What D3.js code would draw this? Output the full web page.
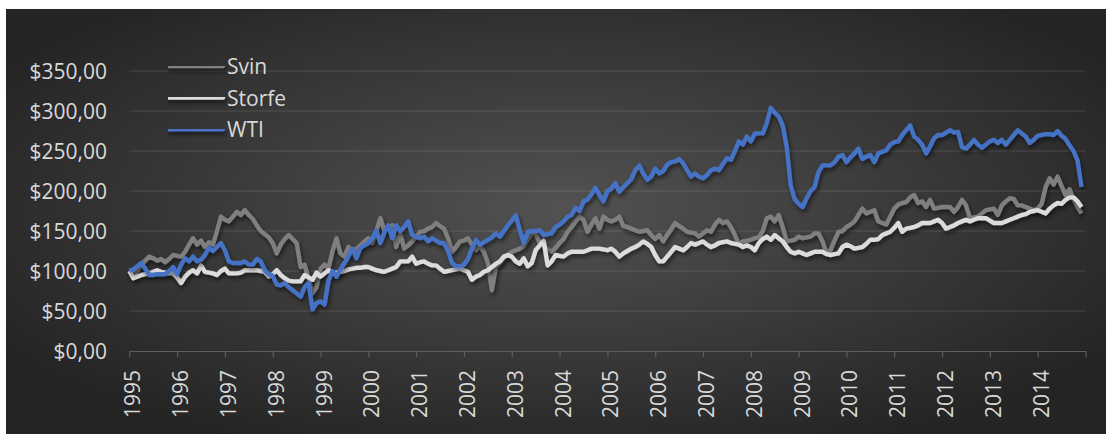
<!DOCTYPE html>
<html>
<head>
<meta charset="utf-8">
<script src="https://cdn.jsdelivr.net/npm/d3@7/dist/d3.min.js"></script>
<style>
  body { margin: 0; background: #fff; }
  svg { display: block; }
  text { font-family: "Open Sans", sans-serif; fill: #d9d9d9; }
</style>
</head>
<body>
<svg id="chart" width="1106" height="434"></svg>
<script>
//DATA//////////////////////////////////
var years = ["1995", "1996", "1997", "1998", "1999", "2000", "2001", "2002", "2003", "2004",
  "2005", "2006", "2007", "2008", "2009", "2010", "2011", "2012", "2013", "2014"];
var yTicks = [0, 50, 100, 150, 200, 250, 300, 350];
var yTickLabels = ["$0,00", "$50,00", "$100,00", "$150,00", "$200,00", "$250,00", "$300,00", "$350,00"];
var seriesNames = ["Svin", "Storfe", "WTI"];

// monthly index values, Jan 1995 - Dec 2014
var svin = [
  100, 95, 100, 108, 113, 118, 116, 113, 115, 111, 115, 120,
  119, 118, 124, 133, 141, 133, 138, 130, 136, 133, 150, 168,
  164, 162, 168, 174, 170, 176, 170, 165, 157, 150, 146, 142,
  135, 122, 133, 140, 145, 140, 135, 105, 108, 90, 72, 80,
  103, 108, 103, 125, 141, 122, 118, 130, 124, 128, 132, 137,
  141, 135, 150, 166, 151, 155, 157, 130, 147, 128, 132, 137,
  143, 149, 150, 153, 155, 160, 156, 153, 141, 124, 130, 137,
  138, 141, 133, 126, 131, 124, 110, 76, 105, 110, 116, 120,
  124, 126, 128, 131, 140, 147, 147, 135, 131, 128, 124, 129,
  135, 140, 149, 155, 162, 168, 164, 149, 158, 166, 153, 168,
  164, 162, 164, 168, 156, 155, 153, 151, 149, 150, 151, 145,
  140, 145, 137, 145, 152, 160, 156, 153, 149, 148, 147, 143,
  147, 151, 149, 158, 164, 160, 162, 155, 145, 133, 137, 138,
  139, 141, 142, 150, 166, 168, 162, 170, 155, 137, 138, 139,
  143, 141, 142, 143, 147, 147, 137, 122, 126, 138, 149, 150,
  155, 158, 162, 170, 178, 172, 174, 176, 162, 160, 158, 168,
  178, 183, 185, 186, 192, 195, 185, 187, 180, 189, 178, 179,
  180, 180, 180, 174, 180, 189, 182, 166, 167, 168, 172, 176,
  177, 178, 170, 182, 187, 191, 190, 182, 182, 180, 178, 176,
  178, 184, 205, 216, 208, 218, 206, 195, 202, 189, 180, 172
];
var storfe = [
  100, 91, 93, 95, 96, 97, 99, 101, 99, 98, 97, 97,
  92, 85, 93, 98, 101, 97, 107, 99, 98, 97, 95, 100,
  103, 97, 97, 97, 98, 101, 101, 101, 101, 100, 99, 93,
  96, 101, 95, 91, 88, 87, 87, 87, 95, 92, 89, 98,
  93, 97, 101, 97, 98, 99, 100, 102, 103, 104, 104, 105,
  105, 103, 101, 100, 99, 101, 103, 105, 112, 112, 112, 118,
  109, 111, 112, 109, 107, 107, 103, 99, 100, 101, 102, 103,
  101, 99, 89, 93, 95, 99, 101, 105, 109, 112, 118, 120,
  118, 112, 109, 116, 106, 110, 126, 132, 138, 107, 112, 120,
  119, 118, 122, 124, 124, 124, 124, 126, 128, 128, 128, 127,
  126, 128, 124, 118, 122, 125, 128, 130, 133, 137, 134, 130,
  120, 112, 112, 118, 124, 130, 128, 126, 130, 135, 133, 135,
  137, 133, 130, 132, 135, 136, 137, 135, 134, 133, 130, 132,
  130, 126, 135, 140, 143, 139, 145, 141, 137, 130, 124, 122,
  124, 122, 120, 122, 124, 124, 124, 121, 120, 121, 122, 130,
  133, 131, 128, 129, 130, 134, 139, 139, 140, 145, 147, 149,
  154, 160, 149, 153, 154, 155, 157, 160, 160, 160, 162, 164,
  160, 153, 155, 157, 160, 162, 164, 162, 164, 166, 166, 166,
  163, 160, 160, 160, 162, 164, 166, 168, 170, 171, 174, 175,
  176, 174, 172, 178, 182, 185, 184, 189, 192, 192, 187, 180
];
var wti = [
  100, 102, 106, 110, 103, 95, 95, 96, 96, 96, 100, 105,
  96, 108, 116, 112, 118, 112, 114, 120, 129, 125, 130, 135,
  126, 112, 110, 110, 110, 112, 108, 108, 115, 112, 101, 96,
  94, 83, 82, 85, 80, 76, 72, 68, 80, 85, 52, 60,
  62, 58, 88, 100, 93, 102, 110, 118, 128, 116, 129, 132,
  135, 141, 151, 135, 148, 157, 141, 157, 150, 155, 162, 145,
  143, 141, 143, 137, 141, 138, 135, 135, 125, 110, 106, 106,
  108, 115, 128, 139, 133, 136, 139, 142, 147, 143, 150, 157,
  163, 170, 151, 135, 149, 150, 150, 151, 145, 146, 147, 155,
  158, 162, 168, 170, 179, 175, 187, 189, 196, 204, 195, 187,
  200, 203, 210, 199, 205, 210, 215, 226, 232, 222, 214, 218,
  228, 222, 225, 233, 236, 237, 240, 235, 226, 218, 222, 218,
  216, 220, 226, 228, 226, 234, 241, 239, 250, 262, 258, 268,
  262, 272, 272, 272, 285, 304, 298, 293, 282, 255, 207, 190,
  184, 180, 191, 200, 205, 224, 232, 232, 232, 236, 243, 245,
  236, 242, 247, 253, 240, 243, 245, 236, 247, 249, 251, 258,
  261, 262, 270, 276, 282, 268, 264, 258, 247, 256, 266, 270,
  270, 273, 276, 273, 274, 255, 253, 258, 264, 258, 254, 258,
  262, 264, 260, 264, 258, 264, 270, 276, 272, 268, 260, 264,
  269, 270, 271, 271, 270, 275, 269, 265, 257, 250, 238, 205
];
var seriesValues = [svin, storfe, wti];
var seriesColors = ["#7f7f7f", "#dcdcdc", "#4472c4"];

//SETUP/////////////////////////////////
var svg = d3.select("#chart");
var plotLeft = 129.3, plotRight = 1085.5;

var x = d3.scaleLinear().domain([0, years.length * 12]).range([plotLeft, plotRight]);
var y = d3.scaleLinear().domain([0, 350]).range([351, 71]);

var defs = svg.append("defs");
var grad = defs.append("radialGradient")
  .attr("id", "bg")
  .attr("cx", "0.5").attr("cy", "0.45").attr("r", "0.6");
grad.append("stop").attr("offset", "0%").attr("stop-color", "#525252");
grad.append("stop").attr("offset", "100%").attr("stop-color", "#242424");

// user space region so flat legend lines keep their shadow
var shadow = defs.append("filter").attr("id", "shadow")
  .attr("filterUnits", "userSpaceOnUse")
  .attr("x", 0).attr("y", 0).attr("width", 1106).attr("height", 434);
shadow.append("feDropShadow")
  .attr("dx", 1.5).attr("dy", 3).attr("stdDeviation", 2)
  .attr("flood-color", "#000").attr("flood-opacity", 0.55);

svg.append("rect")
  .attr("x", 6).attr("y", 9)
  .attr("width", 1106).attr("height", 440)
  .attr("fill", "url(#bg)");

//GRID + Y LABELS///////////////////////
svg.append("g")
  .selectAll("line")
  .data(yTicks.slice(1))
  .join("line")
  .attr("x1", plotLeft).attr("x2", plotRight)
  .attr("y1", d => y(d)).attr("y2", d => y(d))
  .attr("stroke", "rgba(255,255,255,0.13)")
  .attr("stroke-width", 1.2);

svg.append("g")
  .selectAll("text")
  .data(yTicks)
  .join("text")
  .attr("x", 107)
  .attr("y", d => y(d))
  .attr("text-anchor", "end")
  .attr("dominant-baseline", "central")
  .style("font-size", "21px")
  .text((d, i) => yTickLabels[i]);

//X AXIS////////////////////////////////
var xAxis = svg.append("g")
  .attr("transform", "translate(0," + y(0) + ")")
  .call(d3.axisBottom(x)
    .tickValues(d3.range(0, years.length * 12 + 1, 12))
    .tickSize(6)
    .tickSizeOuter(0)
    .tickFormat(d => (d / 12 < years.length ? years[d / 12] : "")));
xAxis.select(".domain").attr("stroke", "#5e5e5e").attr("stroke-width", 1.2);
xAxis.selectAll(".tick line").attr("stroke", "#5e5e5e").attr("stroke-width", 1.2);
xAxis.selectAll(".tick text")
  .attr("fill", "#d9d9d9")
  .style("font-size", "21px")
  .style("font-family", "'Open Sans', sans-serif")
  .attr("text-anchor", "end")
  .attr("dominant-baseline", "central")
  .attr("dy", null)
  .attr("y", 0)
  .attr("x", 0)
  .attr("transform", "translate(2.5,19) rotate(-90)");

//LINES/////////////////////////////////
var line = d3.line()
  .x((d, i) => x(i))
  .y(d => y(d));

svg.append("g")
  .selectAll("path")
  .data(seriesValues)
  .join("path")
  .attr("d", line)
  .attr("fill", "none")
  .attr("stroke", (d, i) => seriesColors[i])
  .attr("stroke-width", 4.4)
  .attr("stroke-linejoin", "round")
  .attr("filter", "url(#shadow)");

//LEGEND////////////////////////////////
var legend = svg.append("g")
  .selectAll("g")
  .data(seriesNames)
  .join("g")
  .attr("transform", (d, i) => "translate(168," + (66 + i * 31.6) + ")");
legend.append("line")
  .attr("x1", 0).attr("x2", 55)
  .attr("y1", 0).attr("y2", 0)
  .attr("stroke", (d, i) => seriesColors[i])
  .attr("stroke-width", 4.4)
  .attr("stroke-linecap", "round")
  .attr("filter", "url(#shadow)");
legend.append("text")
  .attr("x", 59)
  .attr("dominant-baseline", "central")
  .style("font-size", "21px")
  .text(d => d);
</script>
</body>
</html>
